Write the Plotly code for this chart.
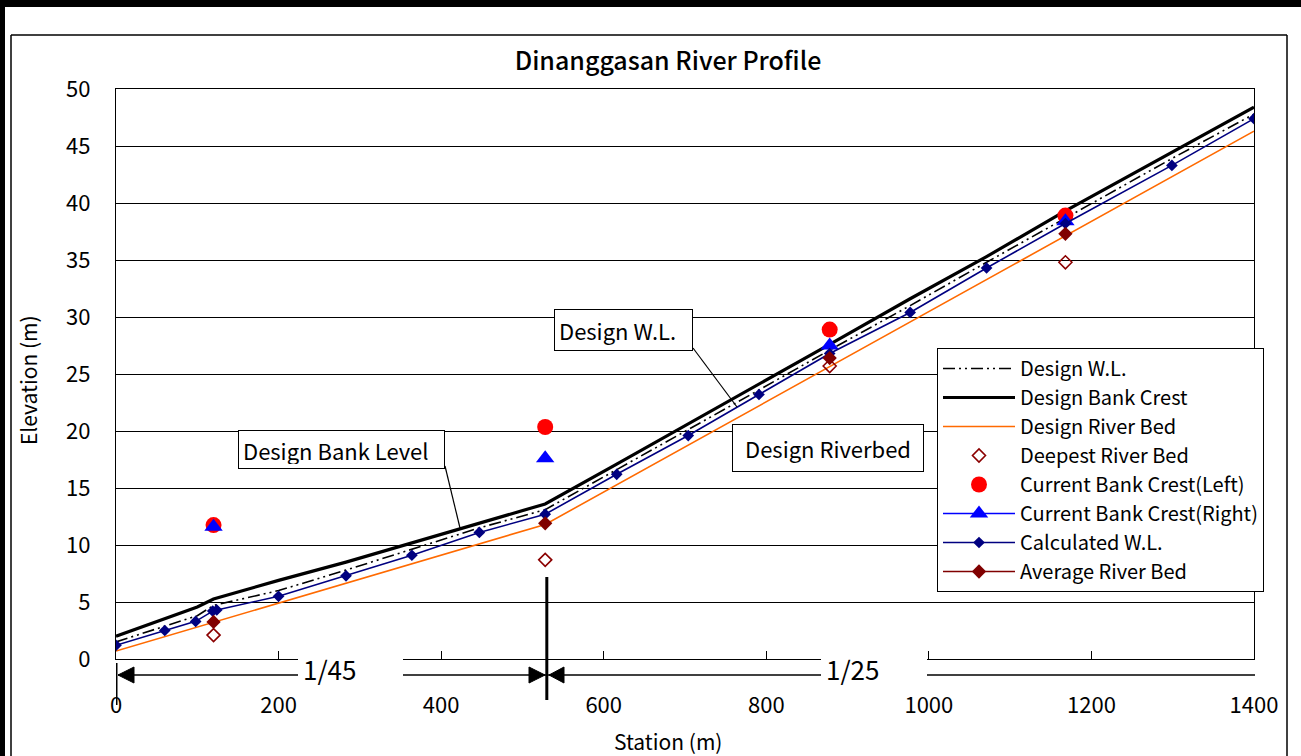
import plotly.graph_objects as go

# ---------------- data ----------------
calc_station = [0, 60, 98, 119, 124, 200, 283, 364, 447, 528, 616, 704, 791, 878, 977, 1071, 1168, 1299, 1400]
calc_wl = [1.2, 2.5, 3.3, 4.2, 4.3, 5.5, 7.3, 9.1, 11.1, 12.7, 16.2, 19.6, 23.2, 26.8, 30.4, 34.3, 38.2, 43.3, 47.4]

design_station = [0, 100, 120, 200, 283, 364, 447, 528, 616, 704, 791, 878, 977, 1071, 1168, 1299, 1400]
design_bank = [2.0, 4.56, 5.26, 6.9, 8.5, 10.2, 11.9, 13.6, 17.1, 20.6, 24.1, 27.6, 31.6, 35.3, 39.3, 44.4, 48.4]
design_wl = [1.5, 3.8, 4.7, 6.0, 7.8, 9.6, 11.5, 13.1, 16.6, 20.1, 23.6, 27.1, 31.0, 34.8, 38.7, 43.9, 47.8]

bed_station = [0, 528, 1400]
design_bed = [0.7, 11.8, 46.3]

survey_station = [120, 528, 878, 1168]
deepest_bed = [2.1, 8.7, 25.7, 34.8]
bank_left = [11.75, 20.35, 28.9, 38.9]
bank_right = [11.6, 17.6, 27.5, 38.4]
avg_bed = [3.25, 11.9, 26.4, 37.3]

slope_break = 530
slope_labels = ["1/45", "1/25"]
x_ticks = [0, 200, 400, 600, 800, 1000, 1200, 1400]
y_ticks = [0, 5, 10, 15, 20, 25, 30, 35, 40, 45, 50]

# ---------------- layout helpers (pixel -> paper) ----------------
W, H = 1301, 756
L, R, T, B = 116, 1254, 89, 659


def px(x):
    return (x - L) / (R - L)


def py(y):
    return (B - y) / (B - T)


def gapped(xs, ys):
    gx, gy = [], []
    for a, b in zip(xs, ys):
        gx += [a, None]
        gy += [b, None]
    return gx, gy


FONT = "Noto Sans CJK JP"

fig = go.Figure()

fig.add_trace(go.Scatter(x=design_station, y=design_wl, mode="lines", name="Design W.L.",
                         legendgroup="a",
                         line=dict(color="black", width=1.6, dash="12px,4px,2px,4px,2px,4px")))
fig.add_trace(go.Scatter(x=design_station, y=design_bank, mode="lines", name="Design Bank Crest",
                         legendgroup="b",
                         line=dict(color="black", width=3.2)))
fig.add_trace(go.Scatter(x=bed_station, y=design_bed, mode="lines", name="Design River Bed",
                         legendgroup="c",
                         line=dict(color="#FF6A00", width=1.6)))
fig.add_trace(go.Scatter(x=survey_station, y=deepest_bed, mode="markers", name="Deepest River Bed",
                         legendgroup="d",
                         marker=dict(symbol="diamond-open", size=10, color="#8B0000",
                                     line=dict(width=1.6, color="#8B0000"))))
fig.add_trace(go.Scatter(x=survey_station, y=bank_left, mode="markers", name="Current Bank Crest(Left)",
                         legendgroup="e",
                         marker=dict(symbol="circle", size=16, color="#FF0000")))
gx, gy = gapped(survey_station, bank_right)
fig.add_trace(go.Scatter(x=gx, y=gy, mode="lines+markers", name="Current Bank Crest(Right)",
                         legendgroup="f", connectgaps=False,
                         line=dict(color="#0000FF", width=1.5),
                         marker=dict(symbol="triangle-up", size=16, color="#0000FF")))
fig.add_trace(go.Scatter(x=calc_station, y=calc_wl, mode="lines+markers", name="Calculated W.L.",
                         legendgroup="g",
                         line=dict(color="#000080", width=1.6),
                         marker=dict(symbol="diamond", size=9, color="#000080")))
gx, gy = gapped(survey_station, avg_bed)
fig.add_trace(go.Scatter(x=gx, y=gy, mode="lines+markers", name="Average River Bed",
                         legendgroup="h", connectgaps=False,
                         line=dict(color="#800000", width=1.6),
                         marker=dict(symbol="diamond", size=11, color="#800000")))

shapes = []
# outer thick black border (top and left)
shapes.append(dict(type="rect", xref="paper", yref="paper", x0=px(0), x1=px(W), y0=py(0), y1=py(7),
                   fillcolor="black", line=dict(width=0), layer="above"))
shapes.append(dict(type="rect", xref="paper", yref="paper", x0=px(0), x1=px(5), y0=py(0), y1=py(H),
                   fillcolor="black", line=dict(width=0), layer="above"))
# inner chart frame
for (x0, y0, x1, y1) in [(11, 35, 1287, 35), (11, 35, 11, H + 2), (1287, 35, 1287, H + 2)]:
    shapes.append(dict(type="line", xref="paper", yref="paper", x0=px(x0), y0=py(y0), x1=px(x1), y1=py(y1),
                       line=dict(color="black", width=1.5), layer="above"))
# dimension line with arrows
shapes.append(dict(type="line", xref="paper", yref="paper", x0=px(118), x1=px(1255), y0=py(675), y1=py(675),
                   line=dict(color="black", width=1.5), layer="above"))
shapes.append(dict(type="line", xref="x", yref="paper", x0=0, x1=0, y0=py(663), y1=py(705),
                   line=dict(color="black", width=3), layer="above"))
shapes.append(dict(type="line", xref="x", yref="paper", x0=slope_break, x1=slope_break, y0=py(577), y1=py(700),
                   line=dict(color="black", width=3), layer="above"))


def tri(tip_x, base_x, yc, half):
    return dict(type="path", xref="paper", yref="paper",
                path=f"M{px(tip_x)},{py(yc)} L{px(base_x)},{py(yc - half)} L{px(base_x)},{py(yc + half)} Z",
                fillcolor="black", line=dict(color="black", width=1), layer="above")


shapes.append(tri(118, 134, 675, 8))
shapes.append(tri(545, 529, 675, 8))
shapes.append(tri(549, 564, 675, 8))
# callout lines
shapes.append(dict(type="line", xref="paper", yref="paper", x0=px(445), y0=py(466), x1=px(460), y1=py(528),
                   line=dict(color="black", width=1.2), layer="above"))
shapes.append(dict(type="line", xref="paper", yref="paper", x0=px(693), y0=py(348), x1=px(737), y1=py(407),
                   line=dict(color="black", width=1.2), layer="above"))

annotations = []


def box(text, x0, y0, x1, y1, size, align="left", border=True):
    annotations.append(dict(
        text=text, xref="paper", yref="paper", x=px((x0 + x1) / 2), y=py((y0 + y1) / 2),
        xanchor="center", yanchor="middle", showarrow=False,
        width=(x1 - x0) - 2 - 8, height=(y1 - y0) - 2 - 2, align=align, valign="middle",
        bgcolor="white", bordercolor="black" if border else "white", borderwidth=1 if border else 0,
        borderpad=4 if border else 5, font=dict(family=FONT, size=size, color="black")))


box("Design Bank Level", 238, 433, 445, 466, 22)
box("Design W.L.", 554, 312, 693, 348, 22)
box("Design Riverbed", 732, 427, 924, 469, 22, align="center")
box(slope_labels[0], 298, 648, 403, 688, 26, border=False)
box(slope_labels[1], 821, 648, 927, 688, 26, border=False)

# axis titles
annotations.append(dict(text="Elevation (m)", xref="paper", yref="paper", x=px(28), y=py(380),
                        xanchor="center", yanchor="middle", textangle=-90, showarrow=False,
                        font=dict(family=FONT, size=21, color="black")))
annotations.append(dict(text="Station (m)", xref="paper", yref="paper", x=px(668), y=py(741),
                        xanchor="center", yanchor="middle", showarrow=False,
                        font=dict(family=FONT, size=21, color="black")))

fig.update_layout(
    width=W, height=H,
    margin=dict(l=L, r=W - R, t=T, b=H - B, pad=0),
    paper_bgcolor="white", plot_bgcolor="white",
    font=dict(family=FONT, color="black"),
    title=dict(text="Dinanggasan River Profile", x=668 / W, xref="container", xanchor="center",
               y=1 - 61 / H, yref="container", yanchor="middle",
               font=dict(family=FONT, size=25, color="black", weight=500)),
    showlegend=True,
    legend=dict(x=px(937), y=py(348), xanchor="left", yanchor="top",
                bgcolor="white", bordercolor="black", borderwidth=1,
                font=dict(family=FONT, size=20, color="black"),
                tracegroupgap=0, itemwidth=72, traceorder="normal"),
    shapes=shapes, annotations=annotations,
)

fig.update_xaxes(range=[0, 1400], tickvals=x_ticks, ticktext=[str(v) for v in x_ticks],
                 showgrid=False, zeroline=False, showline=True, linecolor="black", linewidth=1.2,
                 mirror=True, ticks="inside", ticklen=8, tickcolor="black",
                 ticklabelstandoff=26, tickfont=dict(family=FONT, size=22, color="black"))
fig.update_yaxes(range=[0, 50], tickvals=y_ticks, ticktext=[str(v) for v in y_ticks],
                 showgrid=True, gridcolor="black", gridwidth=1, zeroline=False,
                 showline=True, linecolor="black", linewidth=1.2, mirror=True,
                 ticks="inside", ticklen=8, tickcolor="black", ticklabelstandoff=20,
                 tickfont=dict(family=FONT, size=22, color="black"))

fig.write_html("out.html", config={"displayModeBar": False},
               post_script="document.body.style.margin='0px';")
